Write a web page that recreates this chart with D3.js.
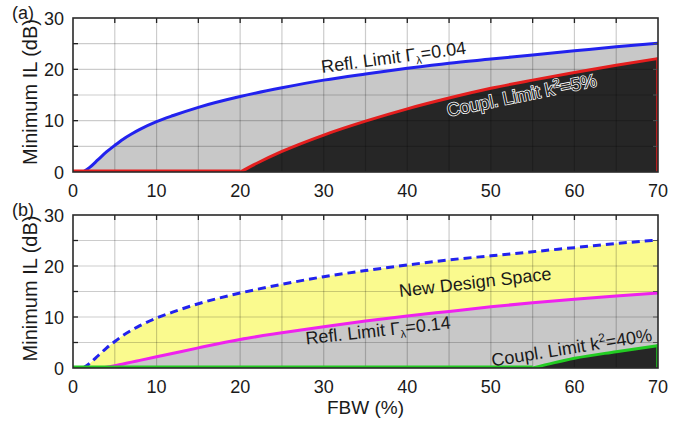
<!DOCTYPE html>
<html>
<head>
<meta charset="utf-8">
<script src="https://cdn.jsdelivr.net/npm/d3@7"></script>
<style>
  html, body { margin: 0; padding: 0; background: #fff; }
  svg text { font-family: "Liberation Sans", Arial, sans-serif; fill: #1a1a1a; }
</style>
</head>
<body>
<svg id="chart" width="694" height="422"></svg>
<script>
// Curves: FBW (%) vs minimum IL (dB); each starts where it leaves 0 dB
const fbwRefl004 = [1.2, 2, 3, 4, 5, 6, 7, 8, 10, 12, 15, 20, 25, 30, 35, 40, 45, 50, 55, 60, 65, 70]
const ilRefl004 = [0, 0.9, 2.4, 3.9, 5.2, 6.4, 7.4, 8.3, 9.8, 11.0, 12.6, 14.7, 16.4, 17.9, 19.1, 20.2, 21.2, 22.0, 22.8, 23.6, 24.4, 25.1]

const fbwCoupl5 = [20, 22, 25, 30, 35, 40, 45, 50, 55, 60, 65, 70]
const ilCoupl5 = [0, 1.7, 4.0, 7.2, 9.9, 12.3, 14.4, 16.3, 17.9, 19.4, 20.8, 22.1]

const fbwRefl014 = [3, 4, 5, 6, 7, 8, 10, 12, 15, 20, 25, 30, 35, 40, 45, 50, 55, 60, 65, 70]
const ilRefl014 = [0, 0.15, 0.45, 0.8, 1.15, 1.5, 2.2, 2.9, 3.95, 5.6, 6.9, 8.1, 9.2, 10.2, 11.1, 12.0, 12.8, 13.5, 14.1, 14.7]

const fbwCoupl40 = [55, 57.5, 60, 65, 70]
const ilCoupl40 = [0, 1.0, 1.9, 3.2, 4.4]

const xTicks = [0, 10, 20, 30, 40, 50, 60, 70]
const yTicks = [0, 10, 20, 30]

const colors = {
  blue: '#2222ee',
  red: '#e41e1e',
  magenta: '#ee22ee',
  green: '#22cc22',
  gray: '#c8c8c8',
  dark: '#262626',
  yellow: '#fafa8e'
}

const svg = d3.select('#chart')
const x = d3.scaleLinear().domain([0, 70]).range([73, 658])

const toPoints = (xs, ys) => xs.map((v, i) => [v, ys[i]])

function panel (id, top, bottom) {
  const y = d3.scaleLinear().domain([0, 30]).range([bottom, top])
  const g = svg.append('g')
  g.append('clipPath').attr('id', 'clip' + id)
    .append('rect').attr('x', x(0)).attr('y', top).attr('width', x(70) - x(0)).attr('height', bottom - top)
  const plot = g.append('g').attr('clip-path', 'url(#clip' + id + ')')
  const area = d3.area().x(d => x(d[0])).y0(y(0)).y1(d => y(d[1])).curve(d3.curveMonotoneX)
  const line = d3.line().x(d => x(d[0])).y(d => y(d[1])).curve(d3.curveMonotoneX)
  return { g, plot, y, area, line, top, bottom }
}

function grid (p) {
  const grid = p.plot.append('g')
  d3.range(5, 70, 5).forEach(v => {
    grid.append('line').attr('x1', x(v)).attr('x2', x(v)).attr('y1', p.top).attr('y2', p.bottom)
  })
  d3.range(5, 30, 5).forEach(v => {
    grid.append('line').attr('x1', x(0)).attr('x2', x(70)).attr('y1', p.y(v)).attr('y2', p.y(v))
  })
  grid.selectAll('line').attr('stroke', 'rgba(0,0,0,0.2)').attr('stroke-width', 1.2)
}

// a curve with its flat 0 dB run from FBW 0, and the thin edge line at FBW 70
function limitLine (p, pts, color, opts = {}) {
  if (opts.base) {
    p.plot.append('line').attr('x1', x(0)).attr('x2', x(pts[0][0]))
      .attr('y1', p.y(0) - 1).attr('y2', p.y(0) - 1)
      .attr('stroke', color).attr('stroke-width', 3)
  }
  const path = p.plot.append('path').datum(pts).attr('d', p.line)
    .attr('fill', 'none').attr('stroke', color).attr('stroke-width', 3)
  if (opts.dash) path.attr('stroke-dasharray', opts.dash)
  if (opts.edge) {
    p.plot.append('line').attr('x1', x(70) - 1).attr('x2', x(70) - 1)
      .attr('y1', p.y(pts[pts.length - 1][1])).attr('y2', p.y(0))
      .attr('stroke', color).attr('stroke-width', 1.5)
  }
}

function frame (p, label) {
  const g = p.g
  const ticks = g.append('g').attr('stroke', '#222').attr('stroke-width', 1.3)
  d3.range(5, 70, 5).forEach(v => {
    ticks.append('line').attr('x1', x(v)).attr('x2', x(v)).attr('y1', p.top).attr('y2', p.top + 5)
  })
  d3.range(5, 30, 5).forEach(v => {
    ticks.append('line').attr('x1', x(0)).attr('x2', x(0) + 5).attr('y1', p.y(v)).attr('y2', p.y(v))
    ticks.append('line').attr('x1', x(70)).attr('x2', x(70) - 5).attr('y1', p.y(v)).attr('y2', p.y(v))
      .attr('stroke', '#555').attr('stroke-width', 1)
  })
  g.append('rect').attr('x', x(0)).attr('y', p.top).attr('width', x(70) - x(0)).attr('height', p.bottom - p.top)
    .attr('fill', 'none').attr('stroke', '#2a2a2a').attr('stroke-width', 1.6)

  g.selectAll('.xt').data(xTicks).join('text')
    .attr('x', d => x(d)).attr('y', p.bottom + 25)
    .attr('text-anchor', 'middle').attr('font-size', 18).text(d => d)
  g.selectAll('.yt').data(yTicks).join('text')
    .attr('x', 64).attr('y', d => p.y(d) + 6.5)
    .attr('text-anchor', 'end').attr('font-size', 18).text(d => d)
  g.append('text').attr('transform', `translate(37,${(p.top + p.bottom) / 2 - 3}) rotate(-90)`)
    .attr('text-anchor', 'middle').attr('font-size', 20).text('Minimum IL (dB)')
  g.append('text').attr('x', 12).attr('y', p.top + 1).attr('font-size', 18).text(label)
}

function rotLabel (p, fx, fy, angle, build) {
  const t = p.g.append('text')
    .attr('transform', `translate(${x(fx)},${p.y(fy)}) rotate(${angle})`)
    .attr('font-size', 18)
  build(t)
  return t
}

function reflText (t, val) {
  t.append('tspan').text('Refl. Limit \u0393')
  t.append('tspan').attr('font-size', 11).attr('dy', 4).text('\u03bb')
  t.append('tspan').attr('dy', -4).text('=' + val)
}
function couplText (t, val) {
  t.append('tspan').text('Coupl. Limit k')
  t.append('tspan').attr('font-size', 12).attr('dy', -7).text('2')
  t.append('tspan').attr('dy', 7).text('=' + val)
}

// ---- Panel (a)
const pa = panel('a', 18, 172)
const blueA = toPoints(fbwRefl004, ilRefl004)
const redA = toPoints(fbwCoupl5, ilCoupl5)
pa.plot.append('path').datum(blueA).attr('d', pa.area).attr('fill', colors.gray)
pa.plot.append('path').datum(redA).attr('d', pa.area).attr('fill', colors.dark)
grid(pa)
limitLine(pa, blueA, colors.blue)
limitLine(pa, redA, colors.red, { base: true, edge: true })
frame(pa, '(a)')
rotLabel(pa, 29.8, 19.3, -7.6, t => reflText(t, '0.04'))
rotLabel(pa, 44.9, 10.8, -11.6, t => couplText(t, '5%'))
  .attr('stroke', '#fff').attr('stroke-width', 1.5).style('paint-order', 'stroke')
  .style('fill', colors.dark)

// ---- Panel (b)
const pb = panel('b', 215, 368)
const blueB = toPoints(fbwRefl004, ilRefl004)
const magB = toPoints(fbwRefl014, ilRefl014)
const greenB = toPoints(fbwCoupl40, ilCoupl40)
pb.plot.append('path').datum(blueB).attr('d', pb.area).attr('fill', colors.yellow)
pb.plot.append('path').datum(magB).attr('d', pb.area).attr('fill', colors.gray)
pb.plot.append('path').datum(greenB).attr('d', pb.area).attr('fill', colors.dark)
grid(pb)
limitLine(pb, blueB, colors.blue, { dash: '8,5' })
limitLine(pb, magB, colors.magenta)
limitLine(pb, greenB, colors.green, { base: true, edge: true })
frame(pb, '(b)')
rotLabel(pb, 39.1, 13.9, -6.6, t => t.text('New Design Space'))
rotLabel(pb, 27.9, 4.6, -6.3, t => reflText(t, '0.14'))
rotLabel(pb, 50.2, 0.3, -9.1, t => couplText(t, '40%'))

svg.append('text').attr('x', x(35)).attr('y', 414).attr('text-anchor', 'middle')
  .attr('font-size', 19).text('FBW (%)')
</script>
</body>
</html>
